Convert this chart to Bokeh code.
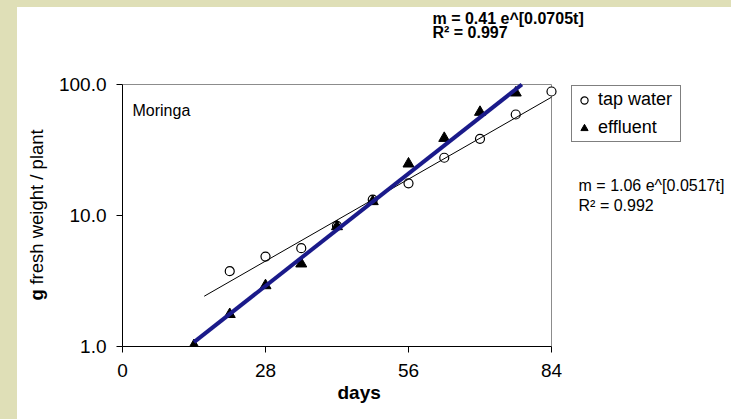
import math
from bokeh.plotting import figure
from bokeh.models import (Range1d, FixedTicker, PrintfTickFormatter, Label,
                          Legend, LegendItem, Spacer, Title)
from bokeh.layouts import row, column
from bokeh.embed import file_html
from bokeh.resources import INLINE

# ---- data ----
days_tap = [21, 28, 35, 42, 49, 56, 63, 70, 77, 84]
tap_water = [3.76, 4.86, 5.63, 8.34, 13.2, 17.6, 27.6, 38.5, 59.0, 88.4]
days_eff = [14, 21, 28, 35, 42, 49, 56, 63, 70, 77]
effluent = [1.02, 1.76, 2.92, 4.28, 8.24, 12.8, 24.8, 38.9, 61.5, 86.4]
trend_tap_days = [16, 84]
trend_tap_vals = [2.42, 80.0]
trend_eff_days = [14, 78.2]
trend_eff_vals = [1.08, 100.0]
x_ticks = [0, 28, 56, 84]
y_ticks = [1, 10, 100]

FONT = "Liberation Sans"
BEIGE = "#dfdfb7"
NAVY = "#1a1a8a"
GRAY = "#8c8c8c"

X_MIN, X_MAX = x_ticks[0], x_ticks[-1]
Y_MIN, Y_MAX = y_ticks[0], y_ticks[-1]

# geometry (pixels) of the main figure
FIG_W, FIG_H = 681, 412
BORDER_L, BORDER_B = 72, 73
PLOT_W, PLOT_H = 429, 262          # size of the drawn plot area (0..84, 1..100)
FRAME_W = FIG_W - BORDER_L
FRAME_H = FIG_H - BORDER_B
x_end = X_MAX * FRAME_W / PLOT_W
y_end = 10 ** (math.log10(Y_MAX) * FRAME_H / PLOT_H)
y_range = Range1d(Y_MIN, y_end)

p = figure(width=FIG_W, height=FIG_H, x_range=Range1d(X_MIN, x_end),
           y_range=y_range, y_axis_type="log",
           output_backend="svg", toolbar_location=None,
           min_border_left=BORDER_L, min_border_right=0, min_border_top=0,
           min_border_bottom=BORDER_B, background_fill_color="white",
           border_fill_color="white")
p.title = None
p.xgrid.visible = False
p.ygrid.visible = False
p.outline_line_color = None

for ax in (p.xaxis[0], p.yaxis[0]):
    ax.axis_line_color = "black"
    ax.major_tick_line_color = "black"
    ax.major_tick_in = 0
    ax.major_tick_out = 6
    ax.minor_tick_in = 0
    ax.minor_tick_out = 0
    ax.major_label_text_font = FONT
    ax.major_label_text_font_size = "19px"
    ax.major_label_text_color = "black"

p.xaxis.bounds = (X_MIN, X_MAX)
p.yaxis.bounds = (Y_MIN, Y_MAX)
p.xaxis.major_label_standoff = 11
p.yaxis.major_label_standoff = 10
p.xaxis.ticker = FixedTicker(ticks=x_ticks)
p.yaxis.ticker = FixedTicker(ticks=y_ticks, minor_ticks=[])
p.yaxis.formatter = PrintfTickFormatter(format="%.1f")

# x-axis title, placed under the drawn plot area
p.add_layout(Title(text="days", align="left", offset=215, standoff=0,
                   text_font=FONT, text_font_size="19px", text_font_style="bold",
                   text_color="black"), "below")

# plot-area border (top and right)
p.line([X_MIN, X_MAX, X_MAX], [Y_MAX, Y_MAX, Y_MIN], line_color=GRAY, line_width=1)

r_tap = p.scatter(days_tap, tap_water, marker="circle", size=9,
                  fill_color="white", line_color="black", line_width=1.2)
r_eff = p.scatter(days_eff, effluent, marker="triangle", size=11,
                  fill_color="black", line_color="black")
p.line(trend_tap_days, trend_tap_vals, line_color="black", line_width=1)
p.line(trend_eff_days, trend_eff_vals, line_color=NAVY, line_width=4)

legend = Legend(items=[LegendItem(label="tap water", renderers=[r_tap]),
                       LegendItem(label="effluent", renderers=[r_eff])],
                location=(449, 204), orientation="vertical",
                border_line_color="black", border_line_width=1,
                background_fill_color="white", background_fill_alpha=1,
                label_text_font=FONT, label_text_font_size="18px",
                label_text_color="black",
                glyph_width=18, glyph_height=18, label_height=18,
                label_width=79,
                padding=3, spacing=7, margin=0, label_standoff=5)
p.add_layout(legend)


def lab(fig, x, y, text, size, bold=False, angle=0):
    fig.add_layout(Label(x=x, y=y, text=text, text_font=FONT,
                         text_font_size=size, text_color="black",
                         text_font_style="bold" if bold else "normal",
                         text_baseline="middle", text_align="left", angle=angle))


lab(p, 60.7, 319, "m = 0.41 e^[0.0705t]", "16px", bold=True)
lab(p, 60.7, 249, "R\u00b2 = 0.997", "16px", bold=True)
lab(p, 89.3, 16.9, "m = 1.06 e^[0.0517t]", "16px")
lab(p, 89.3, 11.9, "R\u00b2 = 0.992", "16px")
lab(p, 1.96, 63.3, "Moringa", "16px")

# y-axis title (bold "g" + normal rest) in a narrow side figure sharing the y scale
YW = 33
q = figure(width=YW, height=FIG_H, x_range=Range1d(0, YW), y_range=y_range,
           y_axis_type="log", x_axis_location=None, y_axis_location=None,
           output_backend="svg", toolbar_location=None,
           min_border_left=0, min_border_right=0, min_border_top=0,
           min_border_bottom=BORDER_B, background_fill_color="white",
           border_fill_color="white")
q.title = None
q.outline_line_color = None
q.xgrid.visible = False
q.ygrid.visible = False
lab(q, 19, 2.24, "g", "18.5px", bold=True, angle=math.pi / 2)
lab(q, 19, 2.97, "fresh weight / plant", "18.5px", angle=math.pi / 2)

left_band = Spacer(width=17, height=419, styles={"background-color": BEIGE})
top_band = Spacer(width=YW + FIG_W, height=7, styles={"background-color": BEIGE})
page = row(left_band, column(top_band, row(q, p)))

open("out.html", "w").write(file_html(page, INLINE))
